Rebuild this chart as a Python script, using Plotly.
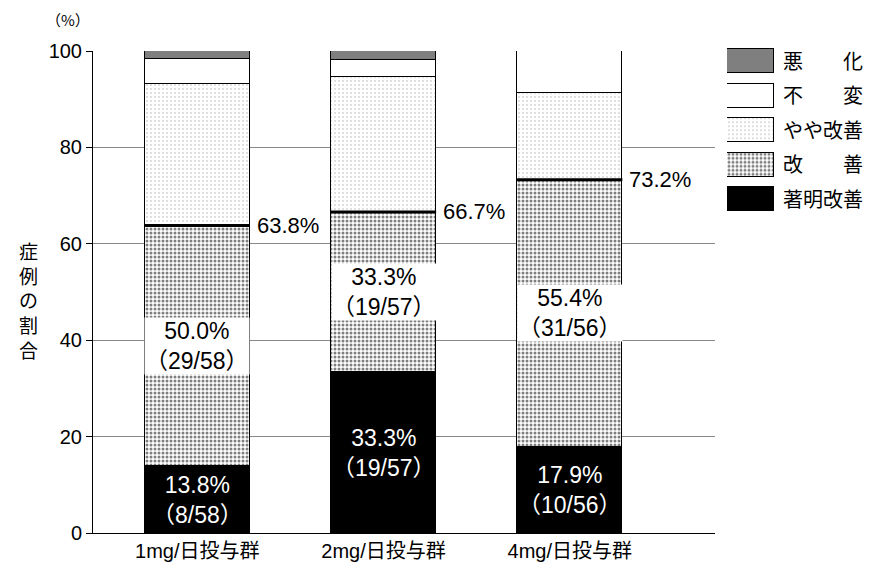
import plotly.graph_objects as go

groups = ["1mg/日投与群", "2mg/日投与群", "4mg/日投与群"]
n_total = [58, 57, 56]
marked = [13.8, 33.3, 17.9]          # 著明改善
marked_n = [8, 19, 10]
improved = [50.0, 33.3, 55.4]        # 改善
improved_n = [29, 19, 31]
slight = [29.3, 28.1, 17.9]          # やや改善
unchanged = [5.2, 3.5, 8.9]          # 不変
worse = [1.7, 1.8, 0.0]              # 悪化
cum_labels = ["63.8%", "66.7%", "73.2%"]
legend_names = ["悪　　化", "不　　変", "やや改善", "改　　善", "著明改善"]
y_title = "症例の割合"
y_ticks = [0, 20, 40, 60, 80, 100]

FONT = "Liberation Sans, Arial, Noto Sans CJK JP"
CJK = "Noto Sans CJK JP"
BW = 0.565

fig = go.Figure()

line = dict(color="black", width=1)
dense = dict(shape=".", fgcolor="black", bgcolor="white", size=4, solidity=0.45)
sparse = dict(shape=".", fgcolor="#666666", bgcolor="white", size=4, solidity=0.12)
fig.add_bar(x=groups, y=marked, width=BW, marker=dict(color="black", line=line), name="著明改善")
fig.add_bar(x=groups, y=improved, width=BW, name="改善",
            marker=dict(color="white", line=line, pattern=dense))
fig.add_bar(x=groups, y=slight, width=BW, name="やや改善",
            marker=dict(color="white", line=line, pattern=sparse))
fig.add_bar(x=groups, y=unchanged, width=BW, marker=dict(color="white", line=line), name="不変")
fig.add_bar(x=groups, y=worse, width=BW, marker=dict(color="#7f7f7f", line=line), name="悪化")

# legend drawn as boxes on a second axis
leg_styles = [
    dict(color="#7f7f7f", line=line),
    dict(color="white", line=line),
    dict(color="white", line=line, pattern=sparse),
    dict(color="white", line=line, pattern=dense),
    dict(color="black", line=line),
]
for name, st in zip(legend_names, leg_styles):
    fig.add_bar(x=[1], y=[name], orientation="h", width=0.7, marker=st,
                xaxis="x2", yaxis="y2", showlegend=False)

W, H = 875, 564
ml, mr, mt, mb = 93, 5, 40, 31
pw, ph = W - ml - mr, H - mt - mb
main_right = (715 - ml) / pw
main_top = (533 - 51) / ph

shapes = []
annotations = []
for i, g in enumerate(groups):
    top = marked[i] + improved[i]
    shapes.append(dict(type="line", xref="x", yref="y", x0=i - BW / 2, x1=i + BW / 2,
                       y0=top, y1=top, line=dict(color="black", width=3)))
    annotations.append(dict(x=i, y=marked[i] / 2, xref="x", yref="y", showarrow=False,
                            text=f"{marked[i]:.1f}%<br>（{marked_n[i]}/{n_total[i]}）",
                            font=dict(color="white", size=23, family=FONT)))
    annotations.append(dict(x=i, y=marked[i] + improved[i] / 2, xref="x", yref="y", showarrow=False,
                            text=f"{improved[i]:.1f}%<br>（{improved_n[i]}/{n_total[i]}）",
                            bgcolor="white", borderpad=0,
                            font=dict(color="black", size=23, family=FONT)))
    annotations.append(dict(x=i + BW / 2, y=top, xref="x", yref="y", showarrow=False,
                            xanchor="left", xshift=5, text=cum_labels[i],
                            font=dict(color="black", size=22, family=FONT)))

# vertical axis title, stacked characters
annotations.append(dict(xref="paper", yref="paper", x=(28.5 - ml) / pw,
                        y=(533 - 300) / ph, showarrow=False, text="<br>".join(y_title),
                        xanchor="center", yanchor="middle",
                        font=dict(color="black", size=19, family=CJK)))
annotations.append(dict(xref="paper", yref="paper", x=(68 - ml) / pw, y=(533 - 19) / ph,
                        xanchor="center", yanchor="middle",
                        showarrow=False, text="（%）",
                        font=dict(color="black", size=15, family=CJK)))

fig.update_layout(
    width=W, height=H,
    margin=dict(l=ml, r=mr, t=mt, b=mb),
    barmode="stack", bargap=0,
    paper_bgcolor="white", plot_bgcolor="white",
    showlegend=False,
    font=dict(family=FONT, color="black"),
    shapes=shapes, annotations=annotations,
    xaxis=dict(domain=[0, main_right], range=[-0.56, 2.78], showline=True, linecolor="black",
               linewidth=1, ticks="", tickfont=dict(size=20, family=FONT, color="black"),
               showgrid=False, zeroline=False, automargin=False, ticklabelstandoff=0),
    yaxis=dict(domain=[0, main_top], range=[0, 100], tickvals=y_ticks, showline=True,
               linecolor="black", linewidth=1, ticks="outside", ticklen=6, tickcolor="black",
               showgrid=True, gridcolor="#888888", gridwidth=1, zeroline=False, automargin=False,
               tickfont=dict(size=20, family=FONT, color="black")),
    xaxis2=dict(domain=[(727 - ml) / pw, (774 - ml) / pw], range=[0, 1], anchor="y2",
                visible=False, fixedrange=True),
    yaxis2=dict(domain=[(533 - 216.75) / ph, (533 - 44.25) / ph], anchor="x2", side="right",
                categoryorder="array", categoryarray=legend_names[::-1], showgrid=False,
                showline=False, ticks="", zeroline=False, ticklabelstandoff=8, automargin=False,
                tickfont=dict(size=20, family=CJK, color="black")),
)

fig.write_html("out.html", config={"displayModeBar": False},
               post_script="document.body.style.margin='0';")
